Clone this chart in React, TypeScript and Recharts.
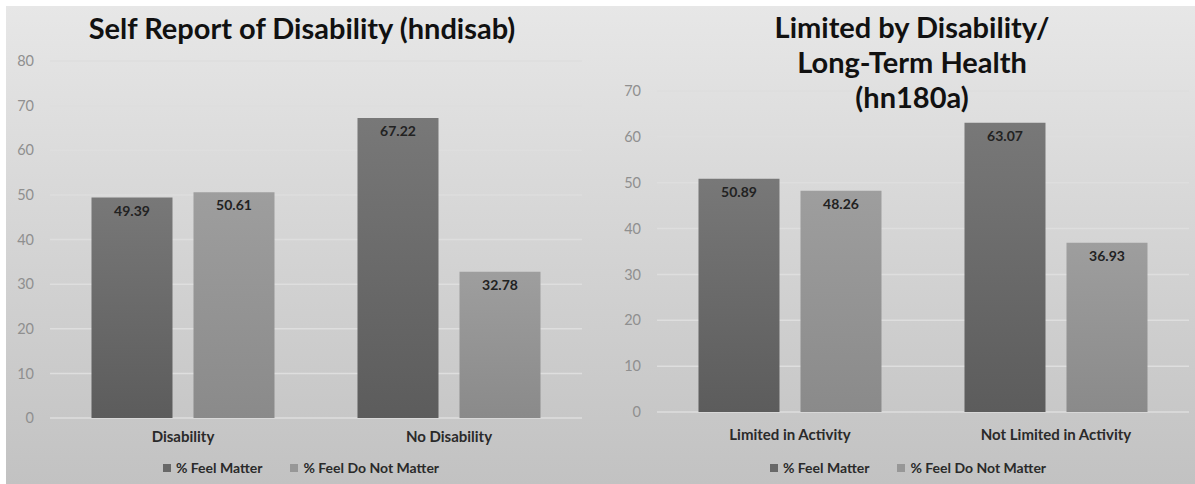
import { Bar, BarChart, CartesianGrid, LabelList, Legend, XAxis, YAxis } from "recharts";

const leftCats = ["Disability", "No Disability"];
const leftMatter = [49.39, 67.22];
const leftNotMatter = [50.61, 32.78];
const leftTicks = [0, 10, 20, 30, 40, 50, 60, 70, 80];

const rightCats = ["Limited in Activity", "Not Limited in Activity"];
const rightMatter = [50.89, 63.07];
const rightNotMatter = [48.26, 36.93];
const rightTicks = [0, 10, 20, 30, 40, 50, 60, 70];

const seriesNames = ["% Feel Matter", "% Feel Do Not Matter"];

const FONT = "Lato, 'Open Sans', sans-serif";
const DARK = "#686868";
const LIGHT = "#979797";

function toRows(cats: string[], a: number[], b: number[]) {
  return cats.map((c, i) => ({ cat: c, matter: a[i], notMatter: b[i] }));
}

function LegendBox() {
  const items = [
    { name: seriesNames[0], color: DARK },
    { name: seriesNames[1], color: LIGHT },
  ];
  return (
    <div style={{ display: "flex", justifyContent: "center", gap: 28, paddingTop: 5, fontFamily: FONT, fontWeight: 700, fontSize: 14, color: "#2a2a2a" }}>
      {items.map((it) => (
        <div key={it.name} style={{ display: "flex", alignItems: "center", gap: 5 }}>
          <span style={{ width: 8, height: 8, background: it.color, display: "inline-block" }} />
          <span>{it.name}</span>
        </div>
      ))}
    </div>
  );
}

function Panel({
  rows,
  ticks,
  max,
  width,
  margin,
  xHeight,
  xMargin,
  id,
}: {
  rows: { cat: string; matter: number; notMatter: number }[];
  ticks: number[];
  max: number;
  width: number;
  margin: { top: number; right: number; left: number; bottom: number };
  xHeight: number;
  xMargin: number;
  id: string;
}) {
  const labelStyle = { fontFamily: FONT, fontSize: 14, fontWeight: 700, fill: "#222" };
  return (
    <BarChart width={width} height={484} data={rows} margin={margin} barGap={21} barCategoryGap="15.6%">
      <defs>
        <linearGradient id={`dark-${id}`} x1="0" y1="0" x2="0" y2="1">
          <stop offset="0%" stopColor="#787878" />
          <stop offset="100%" stopColor="#5c5c5c" />
        </linearGradient>
        <linearGradient id={`light-${id}`} x1="0" y1="0" x2="0" y2="1">
          <stop offset="0%" stopColor="#9e9e9e" />
          <stop offset="100%" stopColor="#8a8a8a" />
        </linearGradient>
      </defs>
      <CartesianGrid vertical={false} stroke="#dedede" strokeWidth={1.5} />
      <XAxis
        dataKey="cat"
        axisLine={false}
        tickLine={false}
        tickSize={0}
        tickMargin={xMargin}
        height={xHeight}
        tick={{ fontFamily: FONT, fontSize: 15, fontWeight: 700, fill: "#2a2a2a" }}
      />
      <YAxis
        domain={[0, max]}
        ticks={ticks}
        axisLine={false}
        tickLine={false}
        tickSize={0}
        tickMargin={16}
        width={30}
        tick={{ fontFamily: FONT, fontSize: 14.5, fill: "#8f8f8f" }}
      />
      <Legend verticalAlign="bottom" height={26} content={() => <LegendBox />} />
      <Bar dataKey="matter" name={seriesNames[0]} fill={`url(#dark-${id})`} isAnimationActive={false}>
        <LabelList dataKey="matter" position="insideTop" offset={8} style={labelStyle} />
      </Bar>
      <Bar dataKey="notMatter" name={seriesNames[1]} fill={`url(#light-${id})`} isAnimationActive={false}>
        <LabelList dataKey="notMatter" position="insideTop" offset={8} style={labelStyle} />
      </Bar>
    </BarChart>
  );
}

const titleStyle = {
  position: "absolute" as const,
  fontFamily: FONT,
  fontWeight: 700,
  fontSize: 29,
  color: "#111",
  textAlign: "center" as const,
  lineHeight: "35px",
};

export default function App() {
  return (
    <div style={{ position: "absolute", left: 0, top: 0, width: 1195, height: 484, background: "#fff", overflow: "hidden" }}>
      <div
        style={{
          position: "absolute",
          left: 6,
          top: 6,
          width: 1189,
          height: 478,
          background: "linear-gradient(#e7e7e7, #d6d6d6 45%, #c2c2c2)",
        }}
      />
      <div style={{ position: "absolute", left: 0, top: 0 }}>
        <Panel
          id="l"
          rows={toRows(leftCats, leftMatter, leftNotMatter)}
          ticks={leftTicks}
          max={80}
          width={590}
          margin={{ top: 61, right: 8, left: 20, bottom: 4 }}
          xHeight={36}
          xMargin={13}
        />
      </div>
      <div style={{ position: "absolute", left: 600, top: 0 }}>
        <Panel
          id="r"
          rows={toRows(rightCats, rightMatter, rightNotMatter)}
          ticks={rightTicks}
          max={70}
          width={595}
          margin={{ top: 91, right: 6, left: 27, bottom: 4 }}
          xHeight={42}
          xMargin={17}
        />
      </div>
      <div style={{ ...titleStyle, left: 52, width: 500, top: 10 }}>Self Report of Disability (hndisab)</div>
      <div style={{ ...titleStyle, left: 662, width: 500, top: 9 }}>
        Limited by Disability/
        <br />
        Long-Term Health
        <br />
        (hn180a)
      </div>
    </div>
  );
}
